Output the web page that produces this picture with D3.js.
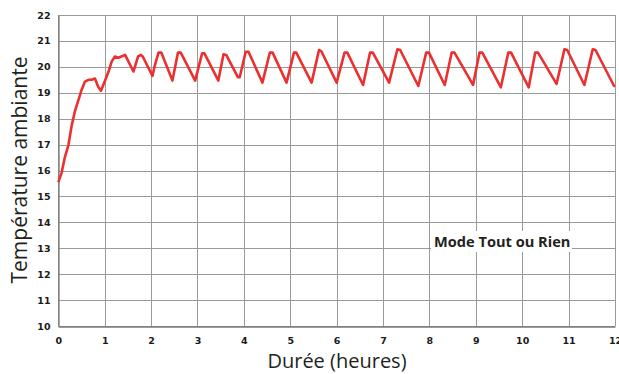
<!DOCTYPE html>
<html><head><meta charset="utf-8">
<script src="https://cdn.jsdelivr.net/npm/d3@7"></script>
<style>body{margin:0;background:#fff}svg{display:block}</style>
</head><body>
<script>
const hours = [0,0.07,0.14,0.22,0.29,0.36,0.43,0.5,0.575,0.65,0.72,0.79,0.86,0.92,0.97,1.08,1.15,1.22,1.29,1.36,1.44,1.62,1.72,1.78,1.82,2.03,2.08,2.16,2.22,2.46,2.58,2.64,2.95,3.1,3.15,3.45,3.56,3.62,3.87,3.91,4.04,4.1,4.40,4.56,4.62,4.92,5.08,5.13,5.46,5.62,5.67,6.0,6.17,6.23,6.57,6.72,6.78,7.13,7.31,7.37,7.76,7.93,7.99,8.33,8.48,8.54,8.94,9.08,9.14,9.54,9.70,9.76,10.14,10.28,10.34,10.74,10.91,10.97,11.34,11.52,11.58,11.98,12.0];
const temps = [15.55,15.9,16.5,17.0,17.75,18.3,18.7,19.1,19.43,19.5,19.5,19.55,19.23,19.08,19.3,19.8,20.2,20.4,20.35,20.4,20.46,19.82,20.4,20.46,20.4,19.65,20.05,20.55,20.55,19.47,20.55,20.55,19.47,20.52,20.52,19.47,20.48,20.46,19.6,19.6,20.58,20.58,19.39,20.55,20.55,19.39,20.55,20.55,19.39,20.65,20.6,19.39,20.55,20.55,19.3,20.55,20.55,19.39,20.68,20.65,19.26,20.55,20.55,19.3,20.55,20.55,19.3,20.55,20.55,19.21,20.55,20.55,19.21,20.55,20.55,19.34,20.68,20.65,19.3,20.68,20.65,19.26,19.26];
const xTicks = [0,1,2,3,4,5,6,7,8,9,10,11,12];
const yTicks = [10,11,12,13,14,15,16,17,18,19,20,21,22];
const xTitle = "Durée (heures)";
const yTitle = "Température ambiante";
const label = "Mode Tout ou Rien";

const W = 619, H = 374;
const m = {left:58.3, right:4, top:15, bottom:48};
const svg = d3.select("body").append("svg").attr("width",W).attr("height",H);
const x = d3.scaleLinear().domain([0,12]).range([m.left, W-m.right]);
const y = d3.scaleLinear().domain([10,22]).range([H-m.bottom, m.top]);

// grid
svg.append("g").selectAll("line").data(yTicks).join("line")
  .attr("x1",x(0)).attr("x2",x(12)).attr("y1",d=>Math.round(y(d))+0.5).attr("y2",d=>Math.round(y(d))+0.5)
  .attr("stroke","#9a9a9a").attr("stroke-width",1);
svg.append("g").selectAll("line").data(xTicks).join("line")
  .attr("y1",y(10)).attr("y2",y(22)).attr("x1",d=>Math.round(x(d))+0.5).attr("x2",d=>Math.round(x(d))+0.5)
  .attr("stroke","#9a9a9a").attr("stroke-width",1);

// axes
const xa = svg.append("g").attr("transform",`translate(0,${Math.round(y(10))+0.5})`)
  .call(d3.axisBottom(x).tickValues(xTicks).tickSize(0).tickPadding(11).tickFormat(d3.format("d")));
const ya = svg.append("g").attr("transform",`translate(${Math.round(x(0))+0.5},0)`)
  .call(d3.axisLeft(y).tickValues(yTicks).tickSize(0).tickPadding(8).tickFormat(d3.format("d")));
[xa,ya].forEach(a=>{
  a.select(".domain").attr("stroke","#7a7a7a").attr("stroke-width",1.3);
  a.selectAll("text").attr("font-family","DejaVu Sans").attr("font-weight","bold").attr("font-size",9.5).attr("fill","#1a1a1a");
});

// label box
const lx = 434, ly = 247;
svg.append("rect").attr("x",431).attr("y",231).attr("width",141).attr("height",21).attr("fill","#fff");
svg.append("text").attr("x",lx).attr("y",ly).text(label)
  .attr("font-family","Open Sans").attr("font-weight","bold").attr("font-size",14.6).attr("fill","#231f20");

// line
const line = d3.line().x((d,i)=>x(hours[i])).y(d=>y(d));
svg.append("path").datum(temps).attr("d",line).attr("fill","none")
  .attr("stroke","#ec2f2f").attr("stroke-width",2.6).attr("stroke-linejoin","round");

// titles
svg.append("text").attr("x",337).attr("y",368).attr("text-anchor","middle").text(xTitle)
  .attr("font-family","Open Sans").attr("font-size",20).attr("fill","#231f20");
svg.append("text").attr("transform","translate(27,170) rotate(-90)").attr("text-anchor","middle").text(yTitle)
  .attr("font-family","Open Sans").attr("font-size",21).attr("fill","#231f20");
</script>
</body></html>
